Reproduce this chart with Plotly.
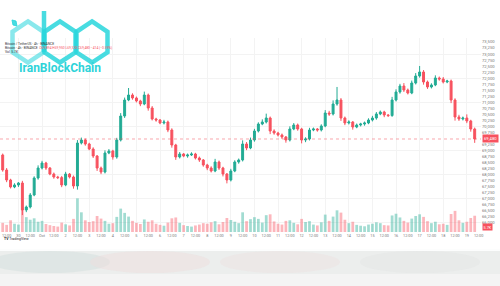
import plotly.graph_objects as go
import pandas as pd

# ---------------- data ----------------
start_time = "2024-09-29 08:00"
first_open = 68817
closes = [68195, 67781, 67491, 67574, 67656, 66538, 66662, 67159, 67864, 68278,
          68485, 68278, 68029, 67905, 67880, 67574, 68029, 67905, 67532, 69314,
          69438, 69273, 69065, 68775, 68278, 68112, 68900, 68982, 68734, 69438,
          70433, 71096, 71303, 71179, 71055, 70930, 71303, 70764, 70309, 70267,
          70143, 70184, 69853, 69231, 68734, 68858, 68775, 68817, 68858, 68692,
          68610, 68402, 68278, 68154, 68527, 68278, 68029, 67781, 68154, 68527,
          68610, 69273, 69107, 69438, 69811, 70101, 70184, 70350, 69811, 69728,
          69646, 69563, 69438, 69894, 70060, 69894, 69438, 69480, 69853, 69894,
          69853, 70019, 70557, 70516, 70930, 71096, 70350, 70143, 70184, 69977,
          70060, 70101, 70143, 70267, 70350, 70516, 70599, 70474, 70450, 71096,
          71428, 71676, 71510, 71386, 71800, 72091, 72256, 71842, 71635, 71718,
          72008, 71966, 71842, 71883, 71096, 70392, 70309, 70350, 70226, 69894,
          69480]
upper_wick = [60, 80, 50, 70, 40, 90, 60, 80, 70, 110, 90, 50, 40, 60, 50, 70, 90, 40, 60, 120,
              100, 60, 50, 70, 40, 60, 110, 80, 50, 90, 120, 100, 290, 70, 60, 50, 140, 60, 80, 50,
              40, 90, 60, 70, 50, 80, 40, 60, 70, 50, 60, 40, 50, 70, 130, 60, 50, 40, 90, 70,
              60, 150, 80, 100, 90, 70, 110, 180, 60, 70, 50, 60, 40, 110, 80, 60, 50, 70, 90, 60,
              40, 70, 120, 90, 150, 540, 80, 60, 70, 40, 60, 50, 60, 70, 90, 80, 60, 50, 40, 130,
              110, 90, 120, 60, 100, 120, 250, 80, 60, 70, 110, 60, 80, 50, 60, 70, 90, 60, 150, 50, 60]
lower_wick = [70, 90, 60, 50, 80, 210, 90, 60, 50, 70, 60, 80, 50, 70, 60, 90, 50, 60, 110, 150,
              60, 70, 50, 80, 120, 90, 60, 50, 110, 70, 60, 80, 50, 70, 60, 90, 50, 110, 60, 70,
              50, 60, 90, 110, 120, 60, 50, 70, 40, 60, 80, 70, 90, 60, 50, 80, 100, 140, 60, 50,
              70, 60, 90, 50, 70, 60, 50, 60, 130, 70, 60, 80, 110, 60, 50, 70, 140, 90, 60, 50,
              70, 60, 50, 80, 60, 70, 120, 90, 60, 110, 50, 60, 70, 50, 60, 70, 50, 90, 60, 50,
              60, 70, 80, 60, 50, 60, 70, 110, 80, 60, 50, 70, 60, 50, 130, 150, 80, 60, 90, 110, 160]
volumes = [3200, 2500, 4100, 2900, 2600, 7800, 5200, 4300, 4800, 3600,
           3900, 2800, 2400, 2100, 1900, 3300, 2700, 2300, 4600, 11800,
           6900, 4100, 3500, 3800, 5600, 4700, 3900, 2900, 3100, 5300,
           8200, 6700, 5400, 3900, 3200, 2800, 4400, 3600, 4100, 2900,
           2500, 2200, 3300, 4800, 5100, 3200, 2400, 2100, 1900, 2300,
           2600, 3100, 2900, 3400, 3800, 2700, 3500, 4900, 4200, 3600,
           3100, 6900, 3800, 4500, 5200, 4600, 3300, 5900, 6200, 3700,
           2900, 2600, 3900, 4100, 3200, 2700, 4600, 3500, 3800, 2600,
           2300, 3400, 6100, 3900, 5400, 7600, 6800, 4300, 3100, 3600,
           2500, 2200, 2000, 2600, 2900, 3400, 3100, 2400, 2300, 5800,
           6400, 5100, 3900, 3300, 4700, 5600, 6200, 5300, 3800, 3100,
           3600, 2700, 2900, 2500, 6300, 7400, 4100, 3200, 3600, 4900,
           5700]
x_tick_text = ["12:00", "30", "12:00", "Oct", "12:00", "2", "12:00", "3", "12:00", "4",
               "12:00", "5", "12:00", "6", "12:00", "7", "12:00", "8", "12:00", "9",
               "12:00", "10", "12:00", "11", "12:00", "12", "12:00", "13", "12:00", "14",
               "12:00", "15", "12:00", "16", "12:00", "17", "12:00", "18", "12:00", "19",
               "12:00"]
price_ticks = list(range(66000, 73501, 250))
last_price = closes[-1]
last_volume_text = "5.7K"

# ---------------- derived ----------------
times = pd.date_range(start_time, periods=len(closes), freq="4h")
opens = [first_open] + closes[:-1]
highs = [max(o, c) + w for o, c, w in zip(opens, closes, upper_wick)]
lows = [min(o, c) - w for o, c, w in zip(opens, closes, lower_wick)]
UP, DOWN = "#22ab94", "#f7525f"
vol_colors = ["rgba(34,171,148,0.42)" if c >= o else "rgba(247,82,95,0.42)"
              for o, c in zip(opens, closes)]
x_tick_vals = pd.date_range("2024-09-29 12:00", periods=len(x_tick_text), freq="12h")
day_grid = pd.date_range("2024-09-30 00:00", "2024-10-19 00:00", freq="1D")
# the label hidden behind the last-price box
price_tick_text = ["" if abs(v - last_price) < 125 else f"{v:,}" for v in price_ticks]

fig = go.Figure()
fig.add_trace(go.Bar(x=times, y=volumes, marker=dict(color=vol_colors, line=dict(width=0)),
                     yaxis="y2", showlegend=False, hoverinfo="skip"))
fig.add_trace(go.Candlestick(x=times, open=opens, high=highs, low=lows, close=closes,
                             increasing=dict(line=dict(color=UP, width=1), fillcolor=UP),
                             decreasing=dict(line=dict(color=DOWN, width=1), fillcolor=DOWN),
                             whiskerwidth=0, showlegend=False))

fig.update_layout(
    width=500, height=286, margin=dict(l=0, r=19, t=38, b=54),
    paper_bgcolor="white", plot_bgcolor="white", bargap=0.3,
    font=dict(family="Roboto", color="#555"),
    xaxis=dict(range=["2024-09-29 05:15", "2024-10-19 14:25"], rangeslider=dict(visible=False),
               tickvals=list(x_tick_vals), ticktext=x_tick_text, tickfont=dict(size=3.8, color="#777"),
               showgrid=False, zeroline=False, showline=False, ticks="", ticklabelstandoff=0,
               minor=dict(tickvals=list(day_grid), showgrid=True, gridcolor="#f3f3f3", gridwidth=1)),
    yaxis=dict(side="right", range=[65626, 73665], tickvals=price_ticks,
               ticktext=price_tick_text, tickfont=dict(size=4.2, color="#777"),
               showgrid=False, zeroline=False, ticks="",
               minor=dict(tickvals=list(range(66000, 73501, 1000)), showgrid=True,
                          gridcolor="#f3f3f3", gridwidth=1)),
    yaxis2=dict(overlaying="y", range=[0, 68000], visible=False),
)

def PX(x):
    return x / 481.0

def PY(y):
    return (232.0 - y) / 194.0

shapes = []
# current price dotted line
shapes.append(dict(type="line", xref="paper", yref="y", x0=0, x1=1, y0=last_price, y1=last_price,
                   line=dict(color=DOWN, width=1, dash="dot"), opacity=0.5))

# bottom blurred band
shapes.append(dict(type="rect", xref="paper", yref="paper", x0=PX(-5), x1=PX(505), y0=PY(249), y1=PY(290),
                   fillcolor="#eceeed", line=dict(width=0), layer="below"))
shapes.append(dict(type="rect", xref="paper", yref="paper", x0=PX(-5), x1=PX(505), y0=PY(274), y1=PY(290),
                   fillcolor="#f4f4f4", line=dict(width=0), layer="below"))
for cx, col in [(50, "rgba(214,224,222,0.55)"), (150, "rgba(238,222,222,0.5)"),
                (280, "rgba(238,224,224,0.45)"), (420, "rgba(228,230,229,0.5)")]:
    shapes.append(dict(type="circle", xref="paper", yref="paper", x0=PX(cx - 60), x1=PX(cx + 60),
                       y0=PY(251), y1=PY(273), fillcolor=col, line=dict(width=0), layer="below"))
shapes.append(dict(type="rect", xref="paper", yref="paper", x0=PX(-5), x1=PX(505), y0=PY(246), y1=PY(251),
                   fillcolor="rgba(255,255,255,0.85)", line=dict(width=0)))

# logo hexagons (pointy-top)
def hex_path(cx, cy, r, hw):
    pts = [(cx, cy - r), (cx + hw, cy - r / 2), (cx + hw, cy + r / 2), (cx, cy + r),
           (cx - hw, cy + r / 2), (cx - hw, cy - r / 2)]
    return "M " + " L ".join(f"{PX(px):.4f},{PY(py):.4f}" for px, py in pts) + " Z"

CYAN = "rgba(40,214,220,0.85)"
for cx, op in [(28, 0.55), (60, 0.85), (92, 0.85)]:
    shapes.append(dict(type="path", xref="paper", yref="paper", path=hex_path(cx, 42, 20.5, 15.5),
                       line=dict(color=f"rgba(40,214,220,{op})", width=4.5)))
shapes.append(dict(type="line", xref="paper", yref="paper", x0=PX(44), x1=PX(44), y0=PY(11), y1=PY(52),
                   line=dict(color=CYAN, width=4.5)))
dot = [(12, 20), (16, 21), (17, 26), (13, 25)]
shapes.append(dict(type="path", xref="paper", yref="paper",
                   path="M " + " L ".join(f"{PX(a):.4f},{PY(b):.4f}" for a, b in dot) + " Z",
                   fillcolor=CYAN, line=dict(color=CYAN, width=1)))
fig.update_layout(shapes=shapes)

annotations = [
    dict(xref="paper", yref="paper", x=PX(60), y=PY(68), xanchor="center", yanchor="middle",
         text="<b>IranBlockChain</b>", showarrow=False,
         font=dict(family="Roboto", size=12, color="#2dd3d9")),
    dict(xref="paper", yref="paper", x=PX(3), y=PY(40), xanchor="left", showarrow=False,
         text="Bitcoin / TetherUS · 4h · BINANCE", font=dict(size=3.3, color="#333")),
    dict(xref="paper", yref="paper", x=PX(3), y=PY(44), xanchor="left", showarrow=False,
         text="Bitcoin · 4h · BINANCE  <span style='color:#f7525f'>O69,894 H69,950 L69,320 C69,480 −414 (−0.59%)</span>",
         font=dict(size=3.3, color="#333")),
    dict(xref="paper", yref="paper", x=PX(3), y=PY(48), xanchor="left", showarrow=False,
         text="Vol  5.7K", font=dict(size=3.3, color="#333")),
    dict(xref="paper", yref="y", x=1, y=last_price, xanchor="left", showarrow=False, xshift=1,
         text=f"{last_price:,}", bgcolor=DOWN, borderpad=1, font=dict(size=4.2, color="white")),
    dict(xref="paper", yref="paper", x=1, y=PY(231), xanchor="left", showarrow=False, xshift=1,
         text=last_volume_text, bgcolor=DOWN, borderpad=0.5, font=dict(size=3.8, color="white")),
    dict(xref="paper", yref="paper", x=PX(2), y=PY(243), xanchor="left", showarrow=False,
         text="<b>TV</b> TradingView", font=dict(size=3.5, color="#222")),
]
fig.update_layout(annotations=annotations)

fig.write_html("out.html")
